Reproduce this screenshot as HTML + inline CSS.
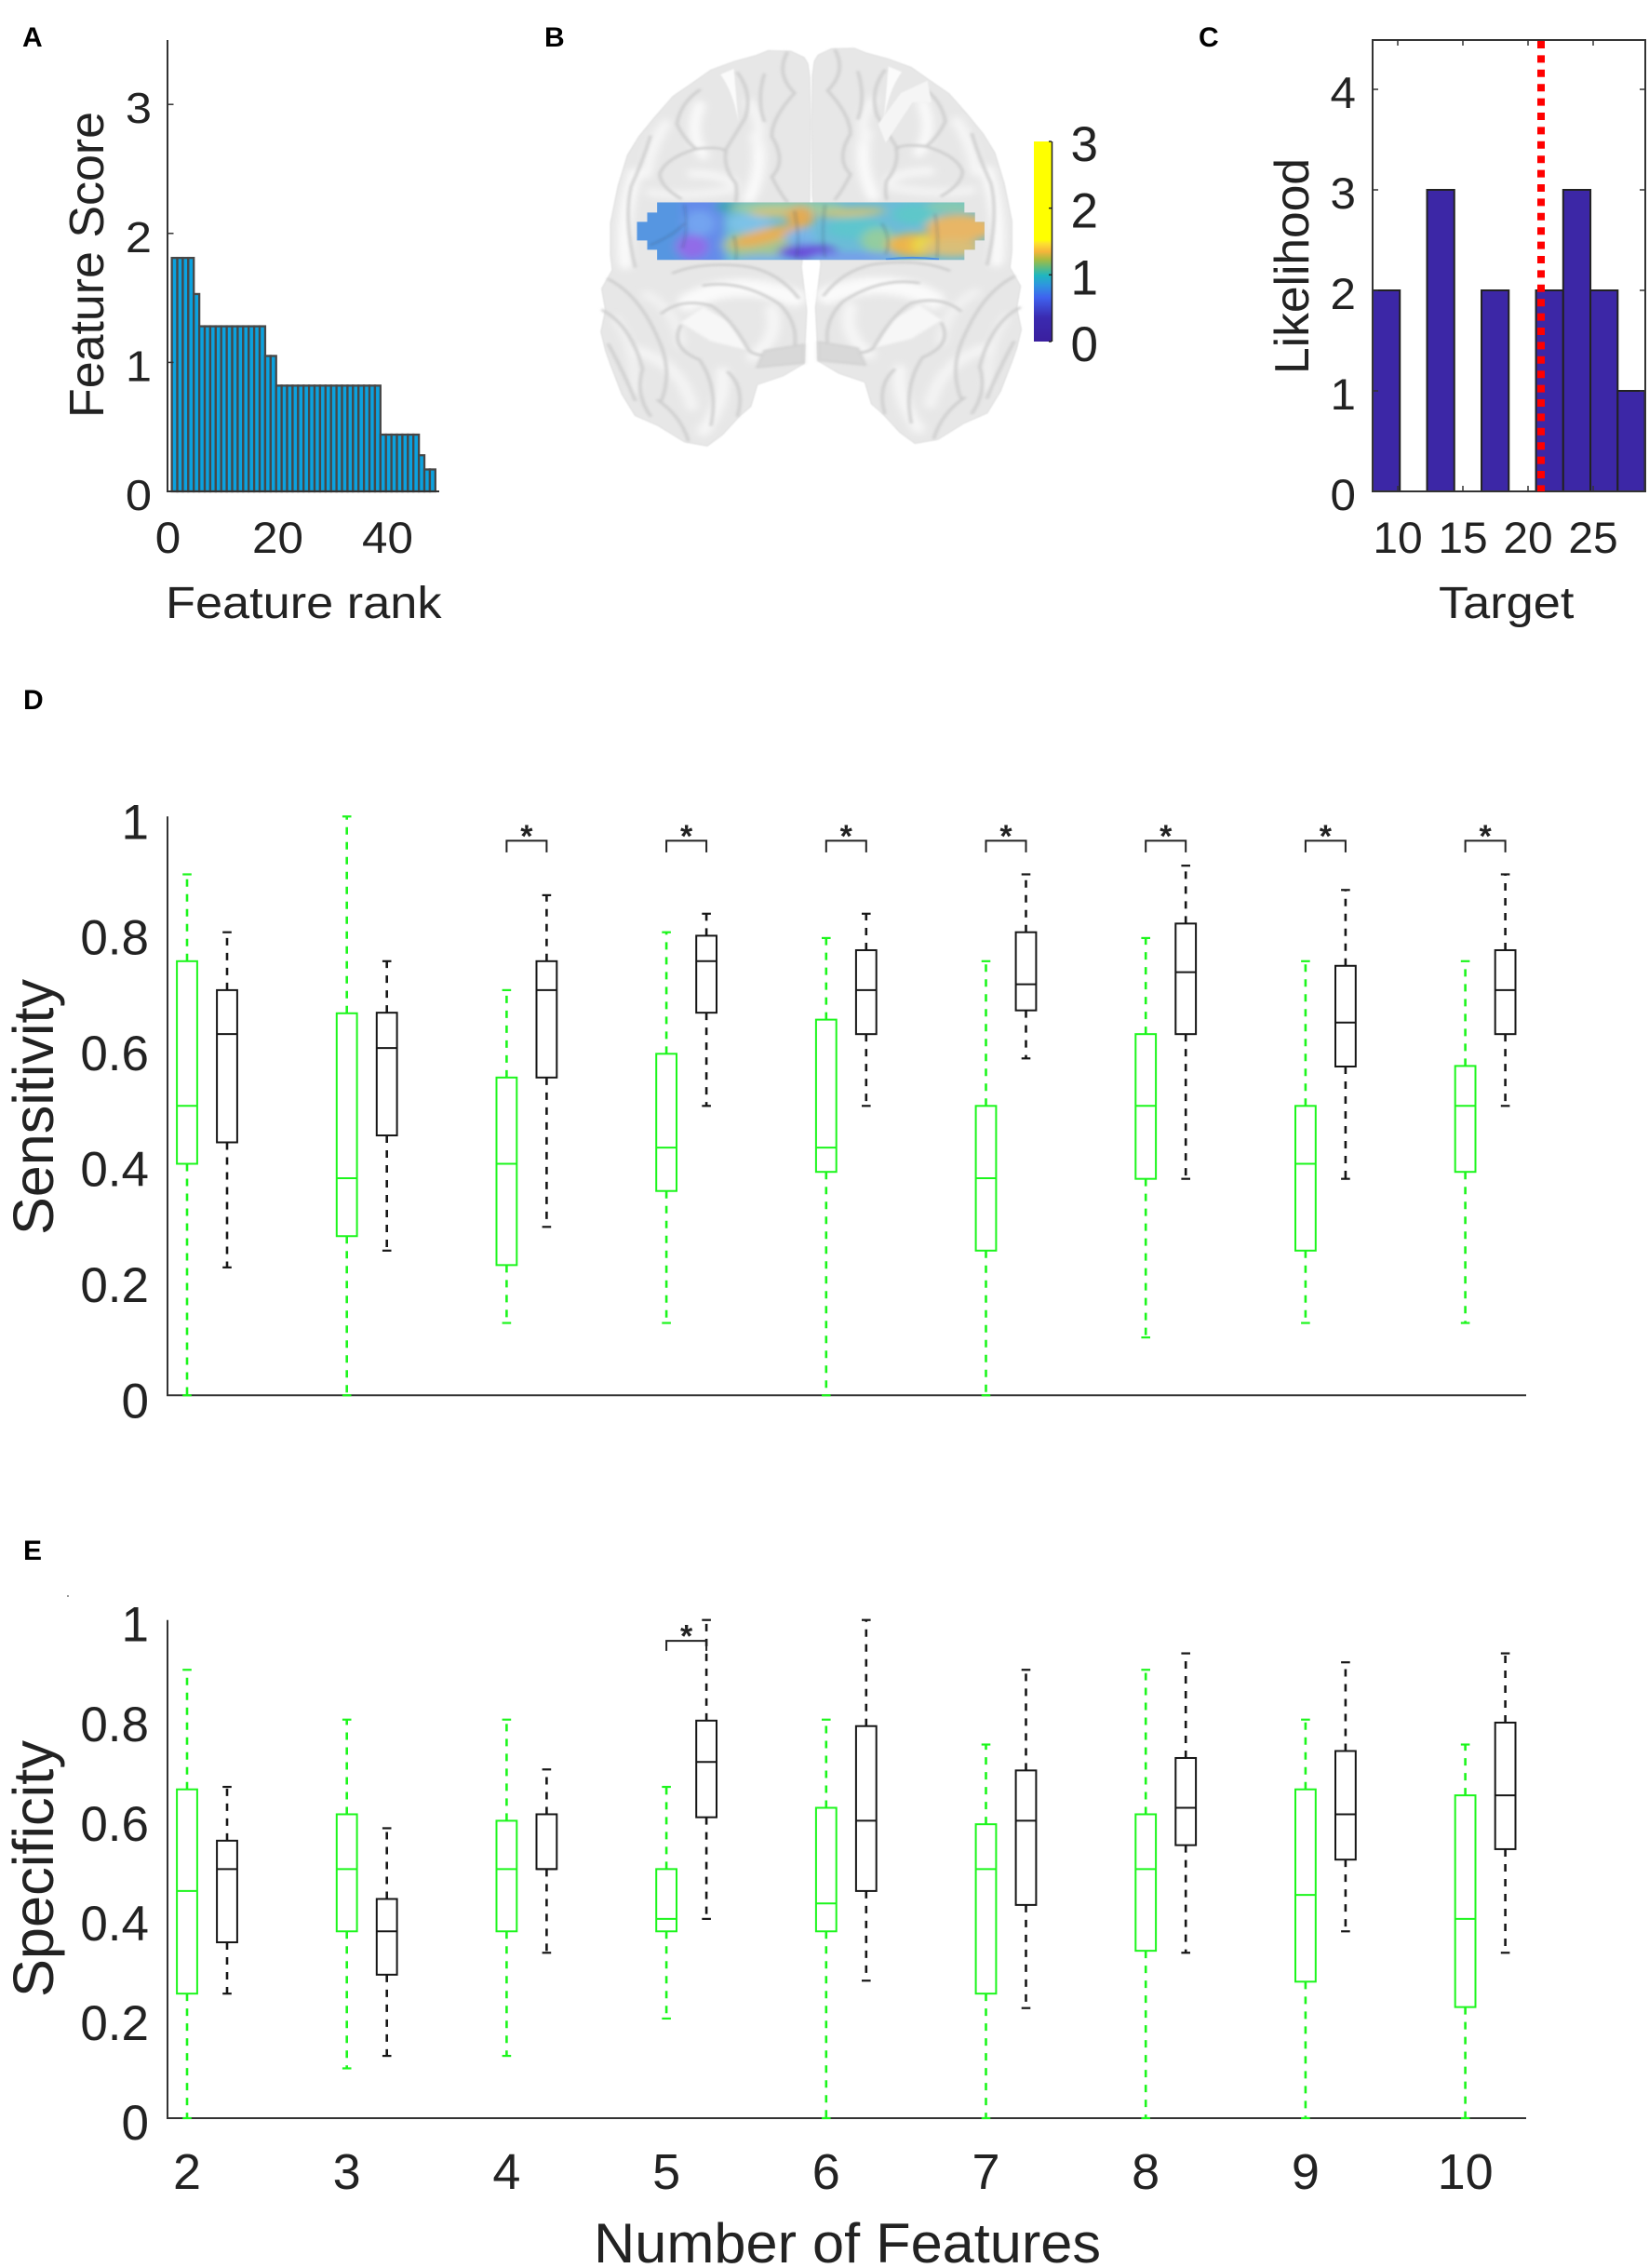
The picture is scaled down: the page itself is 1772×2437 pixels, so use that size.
<!DOCTYPE html>
<html lang="en">
<head>
<meta charset="utf-8">
<title>Feature analysis figure</title>
<style>
  html, body { margin: 0; padding: 0; background: #fff; }
  svg { display: block; }
  text { font-family: "Liberation Sans", Arial, sans-serif; fill: #222; }
  .letter { font-weight: bold; fill: #000; font-size: 30px; }
</style>
</head>
<body>
<svg id="figure" xmlns="http://www.w3.org/2000/svg" width="1772" height="2437" viewBox="0 0 1772 2437">
  <defs>
    <filter id="blur-edge" x="-5%" y="-5%" width="110%" height="110%"><feGaussianBlur stdDeviation="2"/></filter>
    <filter id="blur-thin" x="-30%" y="-30%" width="160%" height="160%"><feGaussianBlur stdDeviation="4"/></filter>
    <filter id="blur-soft" x="-30%" y="-30%" width="160%" height="160%"><feGaussianBlur stdDeviation="7"/></filter>
    <filter id="blur-mid" x="-30%" y="-30%" width="160%" height="160%"><feGaussianBlur stdDeviation="11"/></filter>
    <filter id="blur-strip" x="-40%" y="-40%" width="180%" height="180%"><feGaussianBlur stdDeviation="13"/></filter>
    <linearGradient id="parula" x1="0" y1="1" x2="0" y2="0">
      <stop offset="0" stop-color="#3a1f9e"/>
      <stop offset="0.12" stop-color="#3a2ab0"/>
      <stop offset="0.22" stop-color="#3f62ee"/>
      <stop offset="0.28" stop-color="#2f94e0"/>
      <stop offset="0.33" stop-color="#1fb6c0"/>
      <stop offset="0.37" stop-color="#5dbb80"/>
      <stop offset="0.41" stop-color="#a8bb40"/>
      <stop offset="0.45" stop-color="#f6b53a"/>
      <stop offset="0.49" stop-color="#fde030"/>
      <stop offset="0.51" stop-color="#ffff00"/>
      <stop offset="1" stop-color="#ffff00"/>
    </linearGradient>
    <clipPath id="strip-clip">
      <path d="M358 652H1167V685H1195V715H1220V775H1195V805H1167V838H358V805H332V775H305V715H332V685H358Z"/>
    </clipPath>
    <g id="hemisphere">
      <path filter="url(#blur-edge)" d="M760 250 L755 205 L745 185 L710 165 L650 163 L620 178 L560 198 L500 225 L450 268 L400 310 L350 380 L310 440 L280 500 L255 600 L235 720 L235 820 L240 870 L212 930 L222 1000 L210 1070 L222 1130 L235 1175 L265 1270 L300 1340 L360 1372 L430 1425 L490 1438 L530 1402 L575 1342 L605 1310 L622 1240 L690 1212 L745 1172 L752 1000 L738 860 L760 640 L762 400 Z" fill="#e7e7e7" stroke="#d8d8d8" stroke-width="2"/>
      <g filter="url(#blur-mid)" fill="none" stroke="#fafafa" stroke-linecap="round">
        <path d="M300 560 Q262 700 275 850" stroke-width="36"/>
        <path d="M440 975 Q560 890 720 960" stroke-width="56"/>
        <path d="M340 620 Q420 640 560 610" stroke-width="24" stroke="#f4f4f4"/>
        <path d="M620 440 Q640 540 600 640" stroke-width="34"/>
        <path d="M470 340 Q440 430 480 500" stroke-width="30"/>
        <path d="M600 330 Q640 400 620 470" stroke-width="26" stroke="#f6f6f6"/>
        <path d="M450 560 Q520 560 560 590" stroke-width="26" stroke="#f6f6f6"/>
        <path d="M380 400 Q340 470 330 560" stroke-width="30" stroke="#f6f6f6"/>
        <path d="M300 1130 Q420 1170 450 1310" stroke-width="32" stroke="#f4f4f4"/>
        <path d="M660 1000 Q680 1090 610 1150" stroke-width="34" stroke="#f6f6f6"/>
        <path d="M330 950 Q410 1000 420 1110" stroke-width="26" stroke="#f2f2f2"/>
        <path d="M250 1030 Q300 1120 300 1260" stroke-width="22" stroke="#f2f2f2"/>
        <path d="M530 1200 Q540 1290 480 1390" stroke-width="34" stroke="#f6f6f6"/>
      </g>
      <path d="M420 1040 L480 990 L550 1040 L600 1130 L500 1100 Z" fill="#f7f7f7" filter="url(#blur-thin)"/>
      <path d="M525 240 Q560 300 572 395 L560 222 Z" fill="#fbfbfb" filter="url(#blur-edge)"/>
      <g filter="url(#blur-thin)" fill="none" stroke="#cdcdcd" stroke-width="8" stroke-linecap="round">
        <path d="M570 235 Q610 300 590 380 Q560 440 540 480 Q530 540 565 590 Q570 620 565 650"/>
        <path d="M700 170 Q670 240 720 300 Q660 380 660 440 Q700 520 660 570 Q680 620 700 650"/>
        <path d="M470 290 Q420 330 410 400 Q430 450 460 480 Q380 510 365 560 Q365 600 420 640"/>
        <path d="M340 440 Q320 520 290 600 Q270 700 300 860"/>
        <path d="M460 480 Q530 470 540 490"/>
        <path d="M640 240 Q620 320 640 390"/>
        <path d="M400 880 Q480 840 600 860 Q680 880 730 960"/>
        <path d="M480 920 Q580 900 680 980 Q730 1040 720 1120"/>
        <path d="M370 1010 Q420 960 500 985 Q550 1020 600 1130 Q630 1160 690 1130"/>
        <path d="M420 1050 Q390 1120 470 1160 Q520 1250 500 1370"/>
        <path d="M230 900 Q310 950 360 1090 Q400 1190 370 1290"/>
        <path d="M215 1000 Q290 1050 320 1190 Q300 1270 340 1340"/>
        <path d="M230 1110 Q270 1200 300 1290"/>
        <path d="M360 1290 Q420 1340 440 1420"/>
        <path d="M545 1200 Q590 1250 570 1340"/>
        <path d="M640 1130 L745 1110 L745 1170 L620 1185 Z" stroke-width="4" fill="#d8d8d8"/>
      </g>
    </g>
  </defs>

  <rect x="0" y="0" width="1772" height="2437" fill="#fff"/>

  <text class="letter" x="24" y="50">A</text>
  <text class="letter" x="585" y="50">B</text>
  <text class="letter" x="1288" y="50">C</text>
  <text class="letter" x="25" y="762">D</text>
  <text class="letter" x="25" y="1676">E</text>

  <!-- Panel A -->
  <g id="panel-a">
    <text font-size="52" transform="translate(111,449) rotate(-90)" textLength="329" lengthAdjust="spacingAndGlyphs">Feature Score</text>
    <text font-size="48" transform="translate(178,664) scale(1.09,1)">Feature rank</text>
  </g>

  <!-- Panel B -->
  <g id="panel-b">
    <g transform="translate(560,0) scale(0.40816,0.33333)">
      <use href="#hemisphere"/>
      <use href="#hemisphere" transform="translate(1527,-8) scale(-1,1)"/>
      <path d="M1000 300 L1070 260 L1080 330 L1030 330 L960 460 L940 400 Z" fill="#f5f5f5" filter="url(#blur-edge)"/>
      <g clip-path="url(#strip-clip)" opacity="0.93">
        <rect x="300" y="645" width="930" height="200" fill="#62b8d6"/>
        <g filter="url(#blur-strip)">
          <rect x="270" y="620" width="160" height="250" fill="#4b90e0"/>
          <rect x="425" y="620" width="110" height="250" fill="#5a84ea"/>
          <ellipse cx="470" cy="720" rx="40" ry="40" fill="#6a9ff0"/>
          <ellipse cx="450" cy="795" rx="42" ry="38" fill="#8a62e8"/>
          <ellipse cx="550" cy="665" rx="40" ry="20" fill="#2f9eb0"/>
          <ellipse cx="600" cy="720" rx="55" ry="30" fill="#74bfe8"/>
          <ellipse cx="700" cy="670" rx="150" ry="26" fill="#8fc8a0"/>
          <ellipse cx="670" cy="685" rx="70" ry="15" fill="#d0c070"/>
          <ellipse cx="620" cy="790" rx="90" ry="42" fill="#9cc48a"/>
          <ellipse cx="640" cy="762" rx="90" ry="24" fill="#e6ac48" transform="rotate(-18 640 762)"/>
          <ellipse cx="735" cy="700" rx="36" ry="36" fill="#e2a648"/>
          <ellipse cx="735" cy="765" rx="42" ry="24" fill="#6eb0e8"/>
          <ellipse cx="640" cy="835" rx="70" ry="12" fill="#6ea8ec"/>
          <ellipse cx="755" cy="812" rx="78" ry="24" fill="#5f40d8"/>
          <ellipse cx="870" cy="830" rx="110" ry="16" fill="#6e96ec"/>
          <ellipse cx="880" cy="735" rx="75" ry="36" fill="#52c2cc"/>
          <ellipse cx="870" cy="685" rx="90" ry="14" fill="#c8c070" transform="rotate(-4 870 685)"/>
          <ellipse cx="940" cy="775" rx="45" ry="40" fill="#8ccb9a"/>
          <ellipse cx="1040" cy="690" rx="62" ry="34" fill="#52c4c8"/>
          <ellipse cx="1135" cy="665" rx="70" ry="18" fill="#80c8a8"/>
          <ellipse cx="1040" cy="790" rx="78" ry="38" fill="#ecb040"/>
          <ellipse cx="1060" cy="790" rx="32" ry="28" fill="#ead838"/>
          <ellipse cx="1155" cy="735" rx="90" ry="44" fill="#e8b25c"/>
          <ellipse cx="1135" cy="800" rx="80" ry="28" fill="#d8bc70"/>
        </g>
        <path d="M960 836 Q1030 825 1100 836" stroke="#3f88e0" stroke-width="6" fill="none"/>
        <g fill="none" stroke="#26405a" stroke-opacity="0.25" stroke-width="6" filter="url(#blur-thin)">
          <path d="M430 660 Q440 740 425 800"/>
          <path d="M340 790 Q400 760 430 720"/>
          <path d="M560 760 Q570 800 565 840"/>
          <path d="M720 680 Q735 770 725 830"/>
          <path d="M800 660 Q790 760 800 830"/>
          <path d="M950 720 Q975 770 960 820"/>
          <path d="M1090 690 Q1100 760 1095 830"/>
        </g>
      </g>
    </g>
    <rect x="1111" y="152" width="19" height="215" fill="url(#parula)"/>
    <line x1="1130.5" y1="152" x2="1130.5" y2="367" stroke="#222" stroke-width="1.5"/>
  </g>

  <!-- Panel C -->
  <g id="panel-c">
    <text font-size="51.5" transform="translate(1406,402) rotate(-90)" textLength="232" lengthAdjust="spacingAndGlyphs">Likelihood</text>
    <text font-size="48" transform="translate(1546,664) scale(1.09,1)">Target</text>
  </g>

  <!-- Panel D -->
  <g id="panel-d">
    <text font-size="61" transform="translate(57,1327) rotate(-90)" textLength="275" lengthAdjust="spacingAndGlyphs">Sensitivity</text>
  </g>

  <!-- Panel E -->
  <g id="panel-e">
    <rect x="72" y="1714" width="2" height="2" fill="#999"/>
    <text font-size="61" transform="translate(57,2146) rotate(-90)" textLength="276" lengthAdjust="spacingAndGlyphs">Specificity</text>
    <text font-size="60" x="638" y="2431" textLength="545" lengthAdjust="spacingAndGlyphs">Number of Features</text>
  </g>
</svg>

<script>
// ---- Panel A data ----
const featureScores = [1.81,1.81,1.81,1.81,1.53,1.28,1.28,1.28,1.28,1.28,1.28,1.28,1.28,1.28,1.28,1.28,1.28,1.05,1.05,0.82,0.82,0.82,0.82,0.82,0.82,0.82,0.82,0.82,0.82,0.82,0.82,0.82,0.82,0.82,0.82,0.82,0.82,0.82,0.44,0.44,0.44,0.44,0.44,0.44,0.44,0.28,0.17,0.17];
const rankTicks = [0, 20, 40];
const scoreTicks = [0, 1, 2, 3];

// ---- Panel B data ----
const colorbarTicks = [0, 1, 2, 3];

// ---- Panel C data ----
const likelihoodCounts = [2, 0, 3, 0, 2, 0, 2, 3, 2, 1];
const targetTicks = [10, 15, 20, 25];
const likelihoodTicks = [0, 1, 2, 3, 4];
const trueTarget = 21;

// ---- Panel D / E shared ----
const featureCounts = [2, 3, 4, 5, 6, 7, 8, 9, 10];
const rateTicks = [0, 0.2, 0.4, 0.6, 0.8, 1];

// ---- Panel D data (Sensitivity) ----
const sensGreenLow  = [0, 0, 0.125, 0.125, 0, 0, 0.10, 0.125, 0.125];
const sensGreenQ1   = [0.40, 0.275, 0.225, 0.353, 0.386, 0.25, 0.374, 0.25, 0.386];
const sensGreenMed  = [0.50, 0.375, 0.40, 0.428, 0.428, 0.375, 0.50, 0.40, 0.50];
const sensGreenQ3   = [0.75, 0.66, 0.549, 0.59, 0.649, 0.50, 0.624, 0.50, 0.569];
const sensGreenHigh = [0.90, 1.0, 0.70, 0.80, 0.79, 0.75, 0.79, 0.75, 0.75];
const sensBlackLow  = [0.221, 0.25, 0.291, 0.50, 0.50, 0.582, 0.374, 0.374, 0.50];
const sensBlackQ1   = [0.437, 0.449, 0.549, 0.661, 0.624, 0.665, 0.624, 0.568, 0.624];
const sensBlackMed  = [0.624, 0.60, 0.70, 0.75, 0.70, 0.71, 0.731, 0.644, 0.70];
const sensBlackQ3   = [0.70, 0.661, 0.75, 0.794, 0.769, 0.80, 0.815, 0.742, 0.769];
const sensBlackHigh = [0.80, 0.75, 0.864, 0.832, 0.832, 0.90, 0.915, 0.873, 0.90];
const sensSignificant = [4, 5, 6, 7, 8, 9, 10];

// ---- Panel E data (Specificity) ----
const specGreenLow  = [0, 0.10, 0.125, 0.20, 0, 0, 0, 0, 0];
const specGreenQ1   = [0.25, 0.375, 0.375, 0.375, 0.375, 0.25, 0.336, 0.274, 0.223];
const specGreenMed  = [0.456, 0.50, 0.50, 0.40, 0.431, 0.50, 0.50, 0.448, 0.40];
const specGreenQ3   = [0.66, 0.61, 0.597, 0.50, 0.623, 0.59, 0.61, 0.66, 0.648];
const specGreenHigh = [0.90, 0.80, 0.80, 0.665, 0.80, 0.75, 0.90, 0.80, 0.75];
const specBlackLow  = [0.25, 0.125, 0.332, 0.40, 0.276, 0.221, 0.332, 0.375, 0.332];
const specBlackQ1   = [0.353, 0.288, 0.50, 0.604, 0.456, 0.428, 0.548, 0.519, 0.54];
const specBlackMed  = [0.50, 0.375, 0.50, 0.715, 0.597, 0.597, 0.623, 0.61, 0.648];
const specBlackQ3   = [0.557, 0.44, 0.61, 0.798, 0.787, 0.698, 0.723, 0.737, 0.794];
const specBlackHigh = [0.665, 0.582, 0.70, 1.0, 1.0, 0.90, 0.933, 0.915, 0.933];
const specSignificant = [5];

const NS = 'http://www.w3.org/2000/svg';

function make(tag, attrs, name, parent) {
  const el = document.createElementNS(NS, tag);
  for (const k in attrs) el.setAttribute(k, attrs[k]);
  
  
  parent.appendChild(el);
  return el;
}

function label(parent, name, str, x, y, size, anchor, sx) {
  const el = make('text', {
    'font-size': size,
    'text-anchor': anchor,
    transform: 'translate(' + x + ',' + y + ') scale(' + sx + ',1)'
  }, name, parent);
  el.textContent = String(str);
  return el;
}

function line(parent, name, x1, y1, x2, y2, stroke, width, dash) {
  const attrs = { x1: x1, y1: y1, x2: x2, y2: y2, stroke: stroke, 'stroke-width': width };
  if (dash) attrs['stroke-dasharray'] = dash;
  return make('line', attrs, name, parent);
}

// ---- Panel A ----
(function () {
  const g = document.getElementById('panel-a');
  const xA = v => 180.5 + 5.9 * v;
  const yA = v => 528 - 138.6 * v;
  const barGroup = make('g', {}, 'feature-bars', g);
  featureScores.forEach((v, i) => {
    make('rect', {
      x: xA(i + 0.7), y: yA(v), width: 5.9, height: yA(0) - yA(v),
      fill: '#0ba2df', stroke: '#474747', 'stroke-width': 2.3
    }, 'feature-bar-' + (i + 1), barGroup);
  });
  line(g, 'y-axis', 180, 43, 180, 528, '#333', 2);
  line(g, 'x-axis', 179, 528, 472, 528, '#333', 2);
  scoreTicks.forEach(t => {
    if (t > 0) line(g, 'y-tick-' + t, 180, yA(t), 186.5, yA(t), '#333', 1.5);
    label(g, 'y-tick-label-' + t, t, 163, yA(t) + 20, 46, 'end', 1.1);
  });
  rankTicks.forEach(t => {
    label(g, 'x-tick-label-' + t, t, xA(t), 594, 47, 'middle', 1.05);
  });
})();

// ---- Panel B ticks ----
(function () {
  const g = document.getElementById('panel-b');
  const yC = v => 367 - (215 / 3) * v;
  colorbarTicks.forEach(t => {
    line(g, 'colorbar-tick-' + t, 1127, yC(t), 1130, yC(t), '#222', 1.5);
    label(g, 'colorbar-label-' + t, t, 1180, yC(t) + 21, 53, 'end', 1.0);
  });
})();

// ---- Panel C ----
(function () {
  const g = document.getElementById('panel-c');
  const xMin = 8.07, binWidth = 2.09;
  const xC = v => 1502 + 14 * (v - 10);
  const yC = v => 528 - 108 * v;
  likelihoodCounts.forEach((c, i) => {
    make('rect', {
      x: xC(xMin + i * binWidth), y: yC(c),
      width: 14 * binWidth, height: yC(0) - yC(c),
      fill: '#3c27a6', stroke: '#222', 'stroke-width': 2
    }, 'likelihood-bin-' + (i + 1), g);
  });
  make('rect', {
    x: 1475, y: 43, width: 293, height: 485, fill: 'none', stroke: '#333', 'stroke-width': 2
  }, 'plot-frame', g);
  likelihoodTicks.forEach(t => {
    if (t > 0) {
      line(g, 'y-tick-left-' + t, 1475, yC(t), 1481, yC(t), '#333', 1.5);
      line(g, 'y-tick-right-' + t, 1762, yC(t), 1768, yC(t), '#333', 1.5);
    }
    label(g, 'y-tick-label-' + t, t, 1457, yC(t) + 20, 47, 'end', 1.05);
  });
  targetTicks.forEach(t => {
    line(g, 'x-tick-top-' + t, xC(t), 43, xC(t), 49, '#333', 1.5);
    line(g, 'x-tick-bottom-' + t, xC(t), 522, xC(t), 528, '#333', 1.5);
    label(g, 'x-tick-label-' + t, t, xC(t), 594, 47, 'middle', 1.02);
  });
  line(g, 'true-target-line', xC(trueTarget), 44, xC(trueTarget), 528, '#ff0000', 8, '8 7.4');
})();

// ---- Panels D & E ----
function boxPanel(g, yBottom, yTop, series, significant, labelOffset) {
  const yS = v => yBottom - (yBottom - yTop) * v;
  const xS = n => 201 + (n - 2) * 171.7;
  const BLACK_OFFSET = 43;
  const HALF_BOX = 10.9;
  const HALF_CAP = 4.8;

  line(g, 'y-axis', 180, yTop, 180, yBottom, '#333', 2);
  line(g, 'x-axis', 179, yBottom, 1640, yBottom, '#333', 2);
  rateTicks.forEach(t => {
    label(g, 'y-tick-label-' + t, t, 160, yS(t) + labelOffset, 53, 'end', 1.0);
  });

  function drawBox(x, idx, set, color, prefix) {
    const n = featureCounts[idx];
    const box = make('g', {}, prefix + '-box-' + n, g);
    const lo = yS(set.low[idx]), q1 = yS(set.q1[idx]), med = yS(set.med[idx]),
          q3 = yS(set.q3[idx]), hi = yS(set.high[idx]);
    line(box, prefix + '-upper-whisker-' + n, x, q3, x, hi, color, 2.6, '8 8');
    line(box, prefix + '-lower-whisker-' + n, x, q1, x, lo, color, 2.6, '8 8');
    line(box, prefix + '-upper-cap-' + n, x - HALF_CAP, hi, x + HALF_CAP, hi, color, 2.2);
    line(box, prefix + '-lower-cap-' + n, x - HALF_CAP, lo, x + HALF_CAP, lo, color, 2.2);
    make('rect', {
      x: x - HALF_BOX, y: q3, width: 2 * HALF_BOX, height: q1 - q3,
      fill: 'none', stroke: color, 'stroke-width': 2
    }, prefix + '-iqr-' + n, box);
    line(box, prefix + '-median-' + n, x - HALF_BOX, med, x + HALF_BOX, med, color, 2);
  }

  featureCounts.forEach((n, idx) => {
    drawBox(xS(n), idx, series.green, '#1cf51c', 'group-1');
    drawBox(xS(n) + BLACK_OFFSET, idx, series.black, '#161616', 'group-2');
  });

  significant.forEach(n => {
    const x1 = xS(n), x2 = xS(n) + BLACK_OFFSET;
    const top = yS(0.958), bot = yS(0.938);
    make('path', {
      d: 'M' + x1 + ' ' + bot + 'V' + top + 'H' + x2 + 'V' + bot,
      fill: 'none', stroke: '#222', 'stroke-width': 2
    }, 'significance-bracket-' + n, g);
    const star = make('text', {
      x: (x1 + x2) / 2, y: top + 6.5, 'font-size': 34, 'font-weight': 'bold', 'text-anchor': 'middle'
    }, 'significance-star-' + n, g);
    star.textContent = '*';
  });
}

boxPanel(document.getElementById('panel-d'), 1499.3, 877.3, {
  green: { low: sensGreenLow, q1: sensGreenQ1, med: sensGreenMed, q3: sensGreenQ3, high: sensGreenHigh },
  black: { low: sensBlackLow, q1: sensBlackQ1, med: sensBlackMed, q3: sensBlackQ3, high: sensBlackHigh }
}, sensSignificant, 24);

boxPanel(document.getElementById('panel-e'), 2276, 1740.7, {
  green: { low: specGreenLow, q1: specGreenQ1, med: specGreenMed, q3: specGreenQ3, high: specGreenHigh },
  black: { low: specBlackLow, q1: specBlackQ1, med: specBlackMed, q3: specBlackQ3, high: specBlackHigh }
}, specSignificant, 23);

// X tick labels for panel E
(function () {
  const g = document.getElementById('panel-e');
  featureCounts.forEach(n => {
    label(g, 'x-tick-label-' + n, n, 201 + (n - 2) * 171.7, 2352, 54, 'middle', 1.0);
  });
})();
</script>
</body>
</html>
